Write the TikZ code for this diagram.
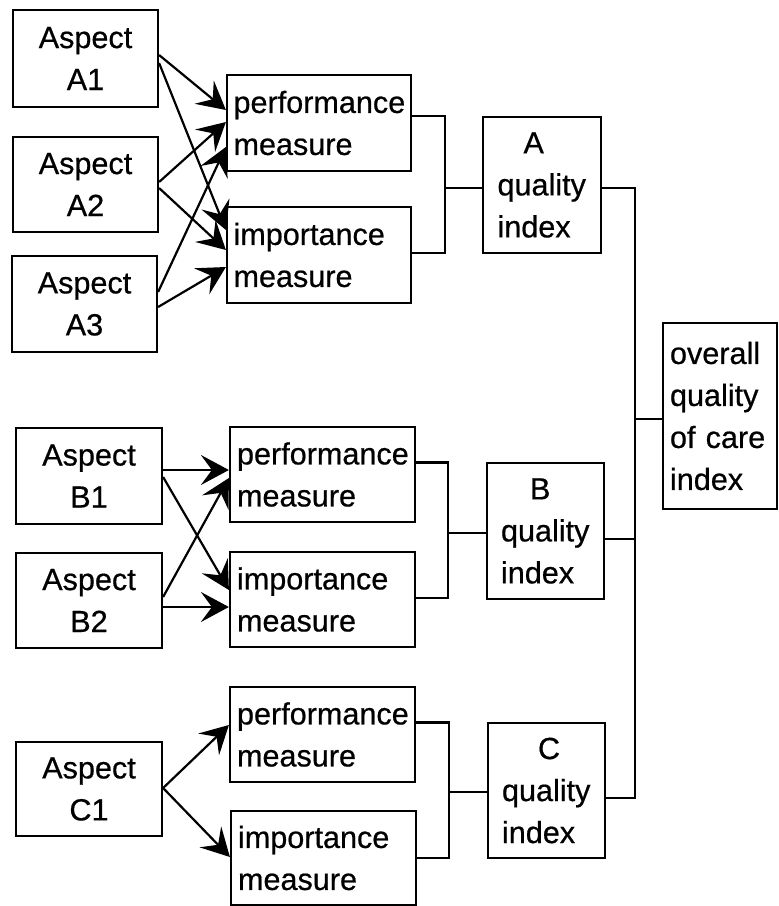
\documentclass[tikz,border=0pt]{standalone}
\usepackage{fontspec}
\setmainfont[FakeBold=0.6]{Liberation Sans}
\usetikzlibrary{arrows.meta}
\begin{document}
\begin{tikzpicture}[x=1pt,y=-1pt,
  box/.style={draw, line width=2.2pt, inner sep=0pt, font=\fontsize{30.6}{42}\selectfont},
  aspectbox/.style={box, minimum width=146pt, minimum height=96pt, align=center},
  measbox/.style={box, minimum width=185pt, minimum height=95pt, text width=171pt, align=left},
  qualbox/.style={box, minimum width=117pt, minimum height=136pt, text width=89pt, align=left},
  conn/.style={line width=2.2pt},
  arr/.style={line width=2.2pt, -{Stealth[length=28pt,width=30pt,inset=11pt]}}]
\useasboundingbox (0,0) rectangle (779,906);

% group A
\node[aspectbox, minimum width=145pt, minimum height=97pt] (A1) at (85.5,58.5) {Aspect\\A1};
\node[aspectbox, minimum width=145pt, minimum height=95pt] (A2) at (85.5,184.5) {Aspect\\A2};
\node[aspectbox, minimum width=145pt, minimum height=96pt] (A3) at (84.5,304) {Aspect\\A3};
\node[measbox, minimum width=184pt, minimum height=96pt] (PA) at (319,123) {performance\\measure};
\node[measbox, minimum width=184pt, minimum height=96pt] (IA) at (319,255) {importance\\measure};
\node[qualbox, minimum width=118pt] (QA) at (542,185) {\hspace*{26pt}A\\quality\\index};

% group B
\node[aspectbox] (B1) at (89,476) {Aspect\\B1};
\node[aspectbox, minimum height=95pt] (B2) at (89,600.5) {Aspect\\B2};
\node[measbox] (PB) at (322.5,474.5) {performance\\measure};
\node[measbox] (IB) at (322.5,599.5) {importance\\measure};
\node[qualbox] (QB) at (545.5,531) {\hspace*{29pt}B\\quality\\index};

% group C
\node[aspectbox, minimum height=94pt] (C1) at (89,789) {Aspect\\C1};
\node[measbox] (PC) at (322.5,734.5) {performance\\measure};
\node[measbox, minimum height=94pt] (IC) at (323.5,858) {importance\\measure};
\node[qualbox, minimum height=135pt] (QC) at (546.5,790.5) {\hspace*{36pt}C\\quality\\index};

% overall
\node[box, minimum width=114pt, minimum height=186pt, text width=100pt, align=left] (OV) at (720,416) {overall\\quality\\of care\\index};

% arrows group A
\draw[arr] ([yshift=3.5pt]A1.east) -- ([yshift=13pt]PA.west);
\draw[arr] ([yshift=-4.5pt]A1.east) -- ([yshift=25pt]IA.west);
\draw[arr] ([yshift=2.5pt]A2.east) -- ([yshift=1pt]PA.west);
\draw[arr] ([yshift=-3.5pt]A2.east) -- ([yshift=5pt]IA.west);
\draw[arr] ([yshift=12pt]A3.east) -- ([yshift=-24pt]PA.west);
\draw[arr] ([yshift=-3pt]A3.east) -- ([yshift=-12pt]IA.west);

% arrows group B
\draw[arr] ([yshift=6pt]B1.east) -- ([yshift=4.5pt]PB.west);
\draw[arr] ([yshift=-1pt]B1.east) -- ([yshift=9.5pt]IB.west);
\draw[arr] ([yshift=3.5pt]B2.east) -- ([yshift=-3.5pt]PB.west);
\draw[arr] ([yshift=-6.5pt]B2.east) -- ([yshift=-7.5pt]IB.west);

% arrows group C
\draw[arr] ([yshift=1pt]C1.east) -- ([yshift=9.5pt]PC.west);
\draw[arr] ([yshift=1pt]C1.east) -- ([yshift=1pt]IC.west);

% brackets
\coordinate (jA) at (445,188);
\coordinate (jB) at (448,533);
\coordinate (jC) at (449,792);
\draw[conn] ([yshift=7pt]PA.east) -| (jA) |- ([yshift=2pt]IA.east);
\draw[conn] (jA) -- (QA.west |- jA);
\draw[conn] ([yshift=12pt]PB.east) -| (jB) |- ([yshift=1.5pt]IB.east);
\draw[conn] (jB) -- (QB.west |- jB);
\draw[conn] ([yshift=12pt]PC.east) -| (jC) |- (IC.east);
\draw[conn] (jC) -- (QC.west |- jC);

% trunk to overall
\coordinate (vb) at (635,798);
\draw[conn] ([yshift=-3pt]QA.east) -| (vb) -- ([yshift=-7.5pt]QC.east);
\draw[conn] ([yshift=-8pt]QB.east) coordinate (qbr) -- (qbr -| vb);
\draw[conn] ([yshift=-3pt]OV.west) coordinate (ovl) -- (ovl -| vb);
\end{tikzpicture}
\end{document}
